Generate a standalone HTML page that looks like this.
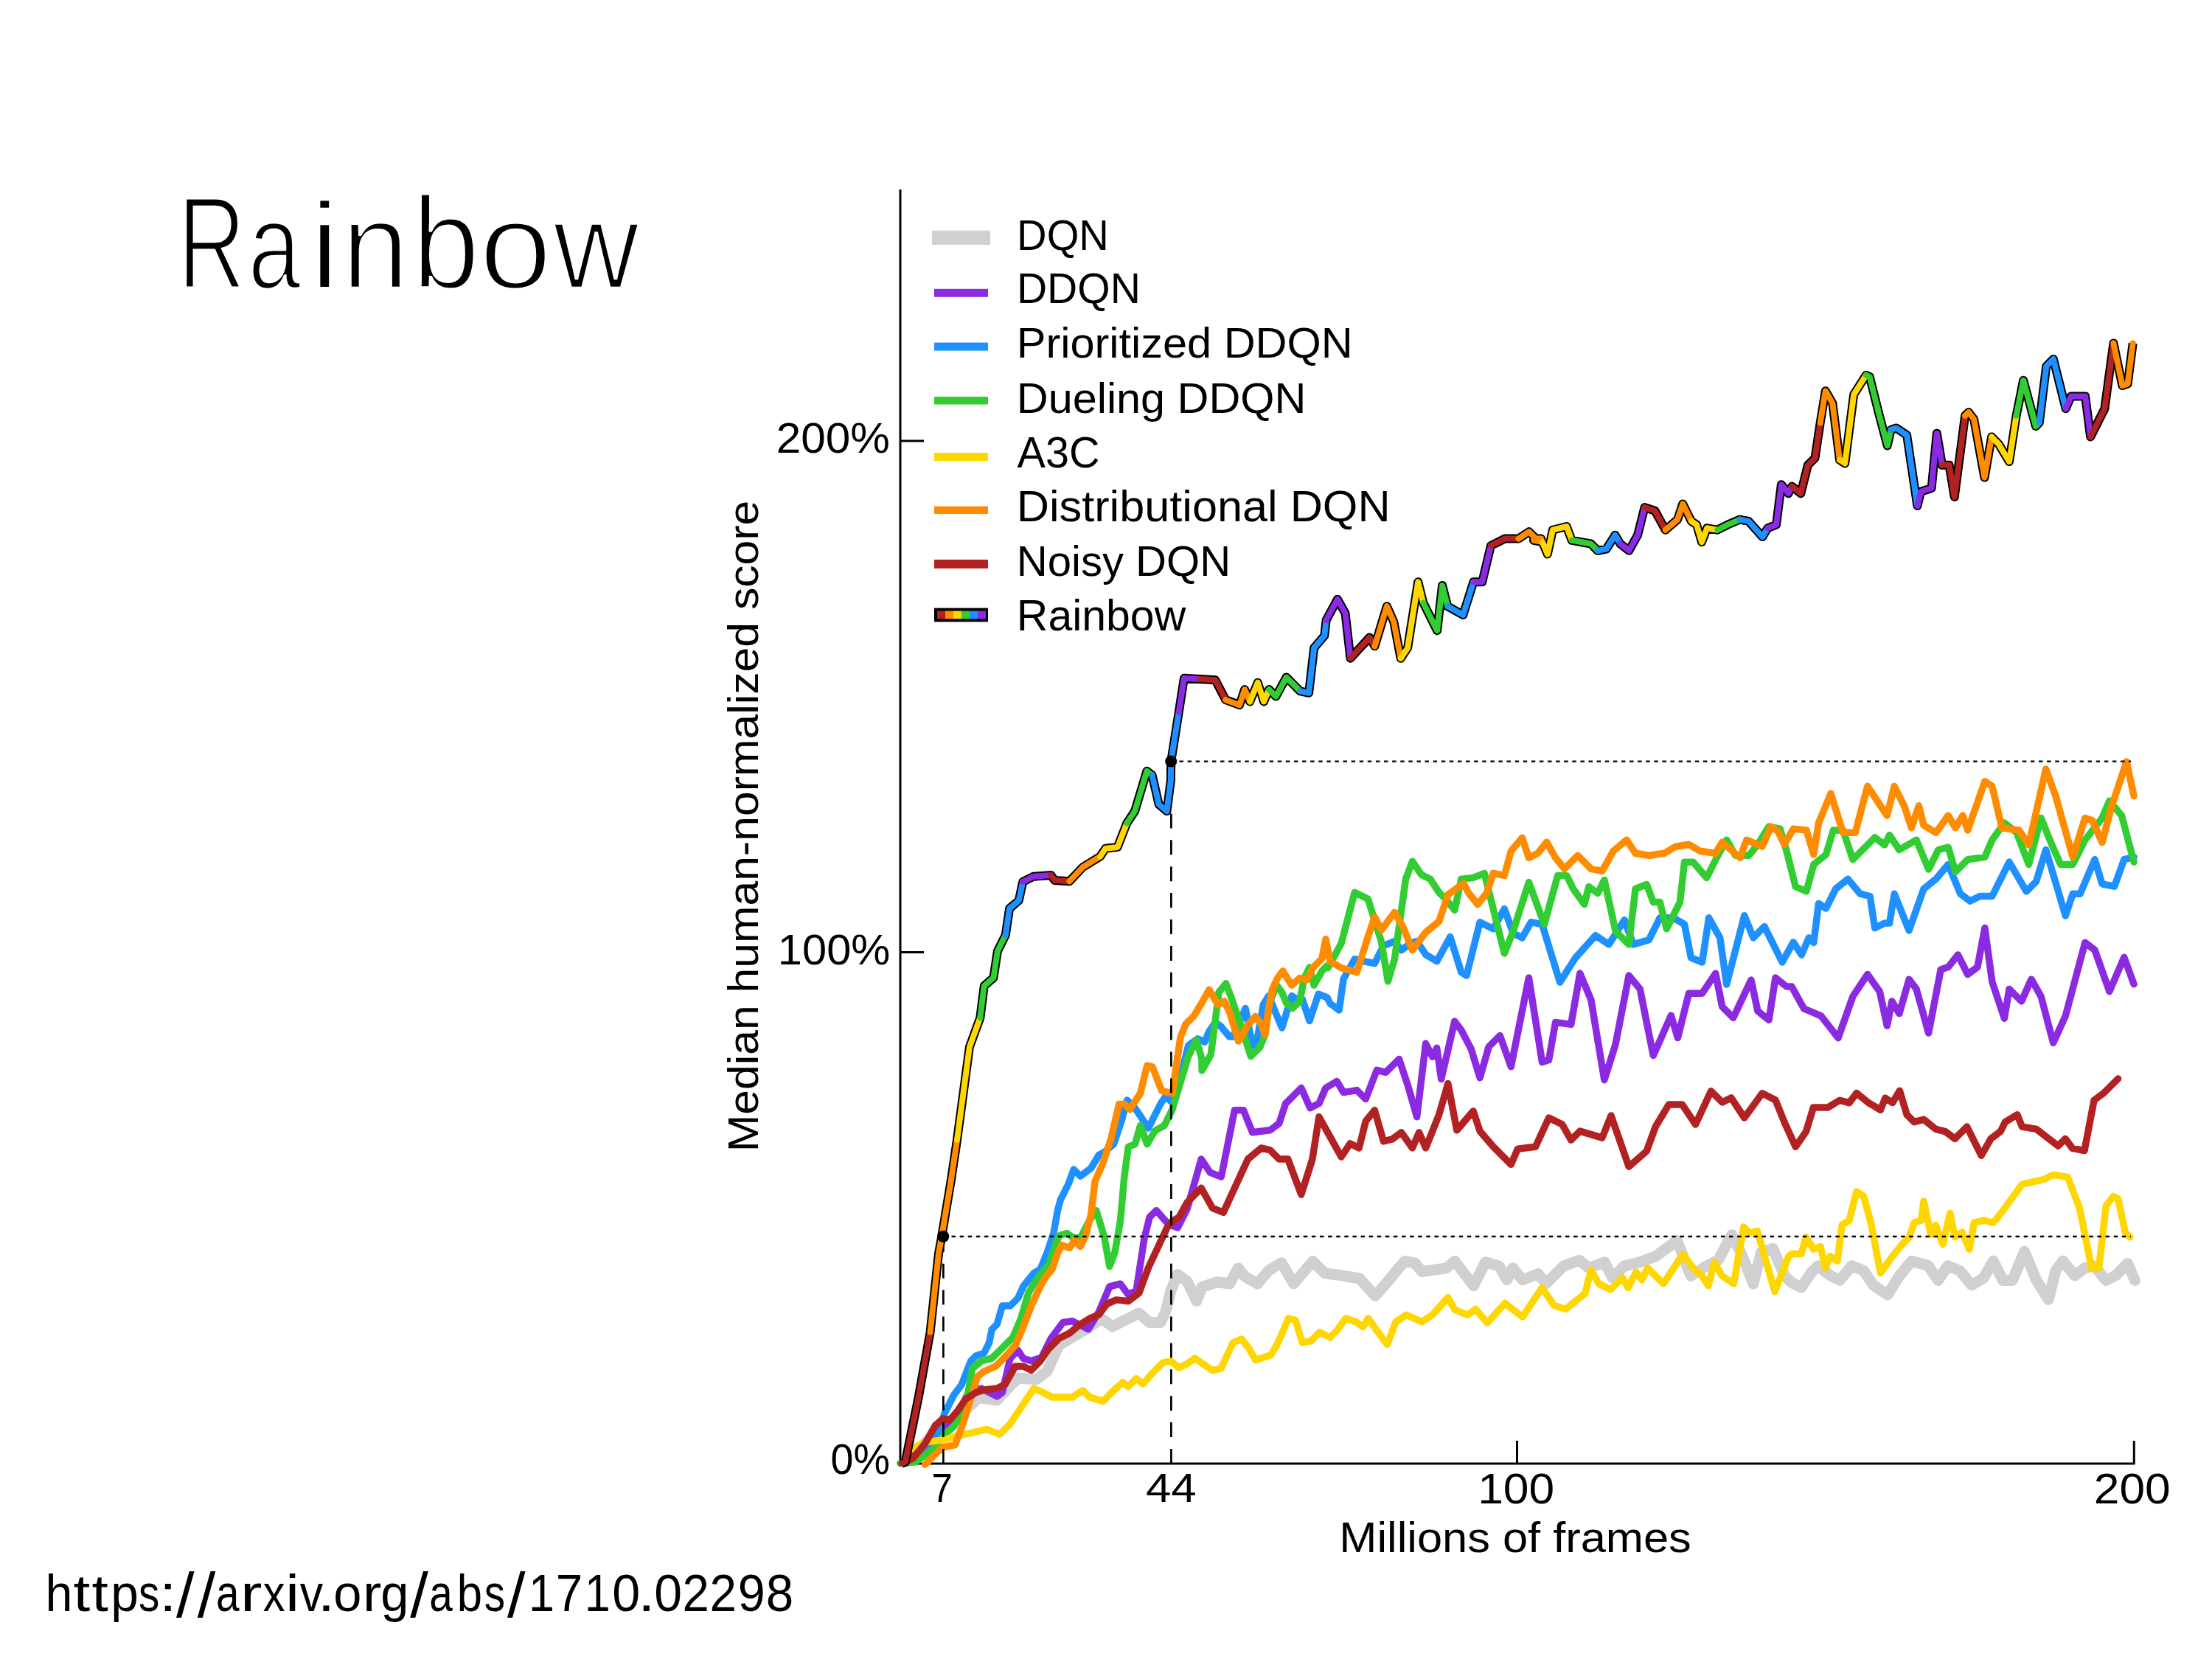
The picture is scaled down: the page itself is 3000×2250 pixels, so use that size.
<!DOCTYPE html>
<html><head><meta charset="utf-8"><style>
html,body{margin:0;padding:0;background:#fff;}
body{width:3000px;height:2250px;position:relative;overflow:hidden;}
svg{position:absolute;left:0;top:0;}
text{font-family:"Liberation Sans",sans-serif;fill:#000;}
</style></head><body>
<svg width="3000" height="2250" viewBox="0 0 3000 2250">
<rect width="3000" height="2250" fill="#fff"/>
<line x1="1221" y1="257" x2="1221" y2="1986.5" stroke="#000" stroke-width="3"/>
<line x1="1219.5" y1="1985" x2="2895.5" y2="1985" stroke="#000" stroke-width="3"/>
<line x1="1221" y1="598" x2="1253" y2="598" stroke="#000" stroke-width="3"/>
<line x1="1221" y1="1291.5" x2="1253" y2="1291.5" stroke="#000" stroke-width="3"/>
<line x1="2057.5" y1="1954" x2="2057.5" y2="1985" stroke="#000" stroke-width="3"/>
<line x1="2894.3" y1="1954" x2="2894.3" y2="1985" stroke="#000" stroke-width="3"/>
<polyline points="1227.8,1982.7 1263.3,1948.9 1298.9,1922.3 1327.4,1895.6 1352.2,1899.1 1366.5,1883.1 1380.7,1868.9 1405.6,1870.7 1420.0,1860.0 1436.2,1824.4 1454.3,1813.5 1476.0,1800.9 1494.1,1788.2 1508.5,1799.1 1526.6,1790.0 1544.7,1781.0 1559.2,1793.6 1573.6,1793.6 1580.9,1779.2 1588.1,1750.2 1597.2,1728.5 1610.0,1737.6 1622.9,1764.5 1630.0,1745.7 1651.1,1738.7 1667.6,1741.0 1679.3,1719.9 1688.7,1731.6 1705.2,1741.0 1721.6,1722.2 1738.1,1712.8 1754.5,1741.0 1780.4,1710.5 1796.8,1726.9 1815.6,1729.3 1843.8,1734.0 1865.0,1757.5 1881.4,1738.7 1904.9,1710.5 1919.0,1712.8 1928.4,1724.6 1961.3,1719.9 1973.1,1710.5 1998.6,1743.7 2014.5,1711.8 2033.1,1717.1 2043.7,1735.7 2051.6,1719.8 2064.9,1735.7 2086.1,1727.7 2096.7,1741.0 2120.6,1717.1 2141.8,1709.2 2155.1,1719.8 2176.3,1711.8 2186.9,1733.0 2202.8,1717.1 2224.1,1711.8 2245.3,1703.9 2274.5,1682.6 2293.0,1730.4 2314.3,1717.1 2330.2,1709.2 2348.7,1674.7 2362.0,1701.2 2377.9,1741.0 2388.5,1698.6 2404.4,1693.3 2420.4,1730.4 2430.0,1739.6 2443.0,1746.1 2456.0,1726.6 2465.8,1716.8 2482.1,1729.9 2495.1,1736.4 2511.4,1716.8 2527.6,1723.4 2540.6,1742.9 2560.2,1755.9 2576.4,1729.9 2592.7,1710.3 2615.5,1716.8 2628.5,1736.4 2641.5,1716.8 2657.8,1723.4 2674.1,1742.9 2690.3,1733.1 2703.4,1710.3 2716.4,1736.4 2729.4,1736.4 2745.7,1697.3 2761.9,1736.4 2778.2,1762.4 2788.0,1723.4 2797.7,1710.3 2814.0,1729.9 2827.0,1720.1 2840.0,1716.8 2856.3,1736.4 2869.3,1729.9 2885.6,1713.6 2895.4,1736.4" fill="none" stroke="#d0d0d2" stroke-width="15" stroke-linejoin="round" stroke-linecap="round"/>
<polyline points="1224.2,1984.5 1277.6,1945.4 1284.7,1931.2 1302.5,1913.4 1313.1,1888.5 1330.9,1883.1 1352.2,1893.8 1359.4,1888.5 1370.0,1842.2 1380.7,1831.6 1387.8,1842.2 1398.5,1845.8 1409.1,1842.2 1410.9,1844.3 1425.3,1815.3 1441.6,1793.6 1454.3,1791.8 1468.7,1799.1 1476.0,1802.7 1490.4,1779.2 1504.9,1744.8 1519.4,1741.2 1530.2,1755.7 1541.1,1750.2 1551.9,1679.7 1559.2,1650.7 1568.2,1641.7 1580.9,1656.2 1588.1,1661.6 1597.2,1665.2 1610.0,1639.9 1629.2,1572.0 1641.2,1590.1 1656.3,1596.1 1674.4,1505.7 1686.5,1505.7 1698.5,1535.8 1722.6,1532.8 1734.7,1523.8 1743.7,1496.6 1764.8,1475.5 1776.9,1502.7 1788.9,1496.6 1798.0,1475.5 1813.1,1466.5 1822.1,1481.6 1840.2,1478.6 1852.2,1490.6 1867.3,1451.4 1879.4,1454.4 1897.5,1436.4 1909.5,1472.5 1921.6,1514.7 1933.6,1415.3 1942.7,1433.3 1948.7,1421.3 1954.7,1463.5 1972.8,1385.1 1981.9,1397.2 1995.1,1422.5 2007.1,1461.7 2019.2,1419.5 2034.3,1404.5 2049.3,1446.7 2073.4,1326.1 2091.5,1440.6 2100.6,1437.6 2109.6,1386.4 2130.7,1389.4 2142.8,1320.1 2157.9,1356.2 2175.9,1464.7 2191.0,1416.5 2209.1,1323.1 2224.2,1341.2 2242.3,1431.6 2266.4,1377.3 2275.4,1407.5 2290.5,1347.2 2308.6,1347.2 2326.7,1320.1 2335.7,1365.3 2350.8,1380.3 2374.9,1329.1 2383.9,1371.3 2399.0,1383.4 2408.0,1326.1 2423.1,1338.1 2430.0,1338.1 2446.6,1368.0 2469.8,1377.9 2493.0,1407.7 2512.9,1351.4 2532.8,1321.5 2549.3,1344.7 2559.3,1391.2 2565.9,1358.0 2575.9,1374.6 2589.1,1328.2 2599.1,1341.4 2615.6,1401.1 2632.2,1314.9 2642.2,1311.6 2655.4,1295.0 2668.7,1321.5 2681.9,1311.6 2691.9,1258.6 2701.8,1331.5 2718.4,1381.2 2725.0,1341.4 2741.6,1358.0 2754.9,1328.2 2768.1,1351.4 2784.7,1414.4 2801.3,1377.9 2827.8,1278.4 2841.0,1288.4 2860.9,1344.7 2880.8,1298.3 2894.1,1334.8" fill="none" stroke="#8a2be2" stroke-width="9.5" stroke-linejoin="round" stroke-linecap="round"/>
<polyline points="1236.7,1982.7 1268.7,1952.5 1281.1,1916.9 1293.6,1892.0 1304.2,1877.8 1316.7,1845.8 1323.8,1838.7 1334.5,1835.1 1341.6,1820.9 1345.1,1803.1 1352.2,1796.0 1359.4,1771.1 1370.0,1771.1 1380.7,1760.5 1387.8,1744.5 1402.0,1726.7 1410.9,1721.3 1419.9,1699.6 1428.9,1672.5 1434.4,1641.7 1438.1,1627.7 1448.9,1606.0 1456.2,1586.1 1465.2,1595.1 1479.7,1584.3 1490.5,1566.2 1497.8,1562.6 1510.4,1551.7 1521.3,1519.2 1528.5,1492.0 1539.4,1502.9 1557.5,1530.0 1573.7,1497.5 1581.0,1486.6 1590.0,1495.7 1599.1,1468.5 1611.7,1417.9 1624.4,1408.8 1633.8,1413.3 1639.8,1398.9 1648.2,1386.8 1655.5,1391.6 1667.5,1406.1 1672.3,1406.1 1689.2,1367.5 1698.9,1420.6 1706.1,1403.7 1713.3,1362.7 1720.6,1350.6 1738.6,1394.0 1751.9,1350.6 1759.1,1355.5 1766.4,1355.5 1776.0,1384.4 1788.1,1348.2 1800.0,1353.0 1804.0,1361.0 1816.1,1370.0 1822.1,1327.8 1837.2,1300.7 1849.2,1303.7 1864.3,1306.7 1876.4,1282.6 1891.4,1276.6 1900.5,1288.7 1912.5,1279.6 1921.6,1276.6 1933.6,1294.7 1948.7,1303.7 1966.8,1270.6 1981.9,1318.8 1989.0,1323.1 2007.1,1250.7 2025.2,1259.8 2040.3,1232.6 2052.3,1265.8 2064.4,1271.8 2076.5,1250.7 2091.5,1253.7 2115.6,1332.1 2136.7,1299.0 2163.9,1268.8 2182.0,1280.9 2203.1,1247.7 2215.1,1280.9 2236.2,1274.8 2251.3,1244.7 2269.4,1244.7 2284.5,1253.7 2293.5,1299.0 2308.6,1305.0 2317.6,1244.7 2332.7,1271.8 2341.7,1335.1 2365.8,1241.7 2377.9,1271.8 2393.0,1256.7 2417.1,1305.0 2432.2,1277.9 2443.3,1295.0 2453.2,1271.8 2459.8,1278.4 2466.5,1225.4 2476.4,1232.0 2489.7,1205.5 2506.2,1192.3 2522.8,1212.2 2536.1,1215.5 2542.7,1258.6 2556.0,1251.9 2562.6,1251.9 2569.2,1212.2 2589.1,1261.9 2609.0,1205.5 2625.6,1192.3 2642.2,1172.4 2658.7,1212.2 2672.0,1222.1 2685.2,1215.5 2701.8,1215.5 2725.0,1169.1 2748.2,1208.8 2761.5,1195.6 2774.7,1152.5 2801.3,1242.0 2811.2,1212.2 2821.2,1212.2 2841.0,1165.7 2851.0,1198.9 2867.6,1202.2 2880.8,1165.7 2894.1,1162.4" fill="none" stroke="#1e90ff" stroke-width="9.5" stroke-linejoin="round" stroke-linecap="round"/>
<polyline points="1220.7,1984.5 1242.0,1982.7 1268.7,1963.2 1281.1,1945.4 1293.6,1934.7 1304.2,1915.1 1313.1,1888.5 1318.5,1856.5 1330.9,1845.8 1345.1,1842.2 1357.6,1829.8 1373.6,1813.8 1384.3,1788.9 1394.9,1753.3 1405.6,1735.6 1420.0,1717.8 1421.7,1717.7 1430.7,1690.5 1436.2,1676.1 1447.0,1672.5 1454.3,1677.9 1465.1,1679.7 1476.0,1658.0 1486.8,1641.7 1497.7,1677.9 1504.9,1717.7 1512.1,1697.8 1519.4,1656.2 1524.9,1595.1 1530.3,1555.3 1539.4,1551.7 1546.6,1526.4 1555.7,1551.7 1566.5,1533.6 1579.2,1526.4 1590.0,1504.7 1600.9,1468.5 1611.7,1432.4 1622.6,1410.6 1630.0,1436.0 1630.1,1451.9 1642.2,1430.2 1648.2,1384.4 1653.0,1345.8 1662.7,1333.8 1669.9,1353.0 1683.2,1391.6 1696.4,1432.6 1708.5,1420.6 1715.7,1403.7 1721.8,1360.3 1731.4,1336.2 1738.6,1345.8 1744.7,1360.3 1753.1,1367.5 1762.7,1357.9 1768.8,1326.5 1776.0,1312.1 1782.0,1336.2 1792.9,1316.9 1800.0,1309.6 1801.0,1312.8 1819.1,1279.6 1837.2,1210.3 1855.3,1219.3 1873.3,1276.6 1882.4,1330.9 1891.4,1300.7 1906.5,1192.2 1915.5,1168.1 1927.6,1186.2 1939.7,1192.2 1951.7,1210.3 1960.8,1219.3 1972.8,1234.4 1981.9,1192.2 1998.1,1190.4 2013.2,1184.4 2022.2,1220.6 2040.3,1292.9 2052.3,1262.8 2073.4,1196.5 2094.5,1253.7 2112.6,1187.4 2124.7,1187.4 2133.7,1205.5 2148.8,1226.6 2154.8,1202.5 2166.9,1211.5 2175.9,1193.4 2191.0,1262.8 2209.1,1280.9 2218.1,1205.5 2233.2,1199.5 2242.3,1223.6 2251.3,1223.6 2260.3,1259.8 2278.4,1223.6 2284.5,1169.3 2296.5,1169.3 2314.6,1190.4 2329.7,1160.3 2341.7,1139.2 2353.8,1160.3 2371.9,1160.3 2383.9,1145.2 2399.0,1121.1 2414.1,1124.1 2423.1,1154.3 2435.2,1202.5 2449.9,1208.8 2459.8,1172.4 2476.4,1159.1 2486.4,1126.0 2499.6,1126.0 2512.9,1165.7 2526.1,1152.5 2542.7,1135.9 2556.0,1145.9 2562.6,1132.6 2575.9,1152.5 2599.1,1139.2 2615.6,1179.0 2628.9,1152.5 2642.2,1149.2 2652.1,1182.3 2668.7,1165.7 2691.9,1162.4 2701.8,1139.2 2718.4,1116.0 2735.0,1129.3 2751.5,1172.4 2768.1,1109.4 2781.4,1142.5 2794.6,1172.4 2811.2,1172.4 2827.8,1139.2 2851.0,1109.4 2860.9,1086.2 2877.5,1106.1 2894.1,1169.1" fill="none" stroke="#32cd32" stroke-width="9.5" stroke-linejoin="round" stroke-linecap="round"/>
<polyline points="1226.0,1982.7 1233.1,1966.7 1254.5,1956.0 1281.1,1952.5 1298.9,1947.2 1316.7,1943.6 1338.0,1938.3 1355.8,1945.4 1370.0,1931.2 1387.8,1904.5 1402.0,1883.1 1414.5,1888.5 1427.1,1894.9 1454.3,1894.9 1468.7,1885.9 1477.8,1894.9 1495.9,1900.4 1512.1,1884.1 1523.0,1875.0 1530.2,1880.5 1541.1,1869.6 1550.1,1876.8 1562.8,1862.4 1577.3,1847.9 1588.1,1846.1 1599.0,1855.1 1610.0,1849.7 1620.6,1842.1 1644.1,1858.5 1655.8,1856.2 1672.3,1820.9 1684.0,1816.2 1693.4,1828.0 1702.8,1844.4 1724.0,1837.4 1733.4,1820.9 1747.5,1788.0 1756.9,1790.4 1766.3,1820.9 1778.0,1818.6 1789.8,1806.8 1803.9,1813.9 1813.3,1804.5 1825.0,1788.0 1839.1,1792.7 1848.5,1799.8 1855.6,1788.0 1867.3,1804.5 1881.4,1823.3 1893.2,1792.7 1907.3,1783.3 1928.4,1792.7 1942.5,1783.3 1963.7,1759.8 1973.1,1776.3 1990.6,1783.4 2001.2,1775.5 2017.1,1794.1 2041.0,1767.5 2064.9,1786.1 2091.4,1746.3 2107.3,1770.2 2123.3,1775.5 2149.8,1754.3 2157.7,1722.4 2168.3,1741.0 2184.3,1749.0 2200.2,1733.0 2208.1,1746.3 2218.8,1725.1 2226.7,1735.7 2234.7,1719.8 2255.9,1741.0 2282.4,1701.2 2298.3,1722.4 2306.3,1727.7 2316.9,1743.7 2324.9,1711.8 2335.5,1730.4 2351.4,1741.0 2364.7,1664.1 2372.6,1672.0 2383.2,1669.4 2407.1,1751.6 2425.7,1703.9 2430.0,1700.6 2443.0,1700.6 2449.5,1677.8 2459.3,1694.1 2469.1,1690.8 2475.6,1720.1 2482.1,1703.8 2491.8,1710.3 2498.3,1661.5 2508.1,1655.0 2517.9,1616.0 2527.6,1622.5 2537.4,1658.3 2550.4,1726.6 2566.7,1703.8 2579.7,1687.6 2589.5,1677.8 2596.0,1658.3 2605.7,1655.0 2609.0,1629.0 2618.7,1674.5 2625.3,1661.5 2635.0,1687.6 2644.8,1645.3 2651.3,1677.8 2661.1,1671.3 2670.8,1694.1 2677.3,1658.3 2690.3,1655.0 2703.4,1658.3 2716.4,1642.0 2742.4,1606.2 2771.7,1599.7 2784.7,1593.2 2804.2,1596.4 2820.5,1638.7 2836.8,1720.1 2846.5,1720.1 2856.3,1635.5 2866.1,1622.5 2872.6,1625.7 2882.3,1671.3 2888.8,1677.8" fill="none" stroke="#ffd700" stroke-width="9.5" stroke-linejoin="round" stroke-linecap="round"/>
<polyline points="1254.5,1986.3 1277.6,1963.2 1295.3,1959.6 1306.0,1931.2 1314.9,1902.7 1320.2,1884.9 1325.6,1867.1 1334.5,1860.0 1350.5,1852.9 1364.7,1838.7 1377.1,1824.5 1387.8,1799.6 1398.5,1771.1 1410.9,1744.5 1418.1,1732.1 1427.1,1721.3 1434.4,1699.6 1439.8,1688.7 1450.6,1692.4 1457.9,1681.5 1465.1,1690.5 1472.4,1676.1 1479.6,1647.1 1485.1,1602.4 1496.0,1577.1 1506.8,1544.5 1517.7,1497.5 1524.9,1497.5 1532.1,1504.7 1546.6,1483.0 1555.7,1445.0 1562.9,1446.8 1575.6,1479.4 1590.0,1483.0 1600.9,1407.0 1608.1,1388.9 1619.0,1378.1 1630.0,1360.0 1639.8,1342.2 1651.8,1362.7 1660.3,1357.9 1667.5,1372.3 1679.6,1412.1 1691.6,1391.6 1702.5,1378.4 1710.9,1389.2 1715.7,1403.7 1720.6,1367.5 1725.4,1342.2 1732.6,1326.5 1739.8,1316.9 1751.9,1336.2 1762.7,1326.5 1772.4,1328.9 1780.8,1312.1 1792.9,1300.0 1798.0,1273.6 1804.0,1303.7 1819.1,1312.8 1840.2,1318.8 1855.3,1270.6 1864.3,1243.4 1873.3,1261.5 1891.4,1237.4 1903.5,1258.5 1915.5,1288.7 1933.6,1264.5 1951.7,1249.5 1963.8,1213.3 1984.9,1198.2 1992.1,1211.5 2004.1,1226.6 2016.2,1211.5 2025.2,1184.4 2040.3,1187.4 2049.3,1154.3 2064.4,1136.2 2073.4,1163.3 2085.5,1157.3 2097.6,1142.2 2109.6,1163.3 2121.7,1178.4 2139.8,1160.3 2157.9,1178.4 2172.9,1181.4 2188.0,1154.3 2206.1,1139.2 2218.1,1157.3 2236.2,1160.3 2257.3,1157.3 2272.4,1148.2 2290.5,1145.2 2305.6,1154.3 2326.7,1157.3 2335.7,1142.2 2359.8,1163.3 2368.9,1139.2 2390.0,1148.2 2402.0,1121.1 2411.1,1127.1 2420.1,1145.2 2432.2,1124.1 2449.9,1126.0 2459.8,1159.1 2466.5,1116.0 2483.0,1076.2 2499.6,1129.3 2516.2,1129.3 2532.8,1066.3 2559.3,1106.1 2569.2,1066.3 2582.5,1092.8 2592.4,1122.7 2602.4,1092.8 2609.0,1119.3 2625.6,1129.3 2642.2,1106.1 2652.1,1122.7 2662.0,1106.1 2668.7,1126.0 2691.9,1059.7 2701.8,1066.3 2715.1,1122.7 2738.3,1126.0 2751.5,1145.9 2774.7,1043.1 2788.0,1079.6 2811.2,1162.4 2827.8,1109.4 2837.7,1112.7 2851.0,1142.5 2864.2,1092.8 2884.1,1033.1 2894.1,1079.6" fill="none" stroke="#ff8c00" stroke-width="9.5" stroke-linejoin="round" stroke-linecap="round"/>
<polyline points="1227.8,1982.7 1238.4,1977.4 1254.5,1957.8 1268.7,1932.9 1279.3,1924.0 1288.2,1925.8 1298.9,1913.4 1309.6,1897.4 1323.8,1888.5 1334.5,1884.9 1352.2,1883.1 1362.9,1877.8 1377.1,1852.9 1387.8,1852.9 1398.5,1858.3 1410.9,1845.8 1421.7,1829.8 1436.2,1815.3 1450.6,1808.1 1463.3,1797.3 1477.8,1788.2 1490.4,1782.8 1501.3,1768.3 1514.0,1762.9 1530.2,1764.7 1544.7,1753.8 1557.4,1719.5 1570.0,1692.4 1582.7,1665.2 1589.9,1656.2 1599.0,1650.7 1610.0,1630.9 1629.2,1611.2 1644.3,1638.3 1659.3,1644.3 1674.4,1611.2 1692.5,1572.0 1710.6,1556.9 1722.6,1559.9 1734.7,1572.0 1746.7,1572.0 1764.8,1620.2 1779.9,1572.0 1788.9,1514.7 1804.0,1541.9 1819.1,1569.0 1831.1,1550.9 1843.2,1556.9 1852.2,1520.8 1864.3,1505.7 1876.4,1547.9 1888.4,1544.9 1900.5,1535.8 1915.5,1556.9 1924.6,1535.8 1933.6,1556.9 1951.7,1511.7 1963.8,1469.5 1975.8,1532.8 1980.0,1528.0 1998.1,1506.9 2007.1,1534.1 2025.2,1555.2 2049.3,1579.3 2058.4,1558.2 2082.5,1555.2 2100.6,1516.0 2118.7,1525.0 2130.7,1546.1 2142.8,1534.1 2172.9,1543.1 2185.0,1513.0 2209.1,1582.3 2233.2,1561.2 2245.3,1528.0 2263.4,1497.9 2281.4,1497.9 2299.5,1525.0 2320.6,1479.8 2335.7,1494.9 2347.8,1488.9 2365.8,1516.0 2390.0,1482.8 2408.0,1491.9 2420.1,1522.0 2435.2,1555.2 2449.5,1534.6 2459.3,1502.1 2478.8,1502.1 2495.1,1492.3 2508.1,1495.6 2517.9,1482.5 2534.1,1495.6 2550.4,1505.3 2556.9,1489.1 2566.7,1495.6 2576.4,1479.3 2586.2,1511.8 2596.0,1521.6 2609.0,1518.3 2625.3,1531.4 2638.3,1534.6 2651.3,1544.4 2667.6,1528.1 2687.1,1567.2 2700.1,1544.4 2713.1,1534.6 2719.6,1521.6 2735.9,1511.8 2742.4,1528.1 2761.9,1531.4 2791.2,1554.1 2801.0,1544.4 2810.7,1557.4 2827.0,1560.6 2840.0,1492.3 2853.1,1482.5 2872.6,1463.0" fill="none" stroke="#b22222" stroke-width="9.5" stroke-linejoin="round" stroke-linecap="round"/>
<line x1="1279.4" y1="1985" x2="1279.4" y2="1677" stroke="#000" stroke-width="2.7" stroke-dasharray="20 15.9"/>
<line x1="1588.4" y1="1985" x2="1588.4" y2="1032.6" stroke="#000" stroke-width="2.7" stroke-dasharray="20 15.9"/>
<line x1="1279.4" y1="1677" x2="2890" y2="1677" stroke="#000" stroke-width="2.3" stroke-dasharray="5.5 5.6"/>
<line x1="1588.4" y1="1032.6" x2="2890" y2="1032.6" stroke="#000" stroke-width="2.3" stroke-dasharray="5.5 5.6"/>
<polyline points="1222.5,1985.0 1227.8,1982.7 1245.6,1895.6 1261.6,1806.7 1273.0,1700.0 1277.0,1678.0 1290.0,1600.0 1298.0,1546.0 1314.9,1420.0 1329.3,1380.4 1334.8,1337.0 1347.4,1326.1 1352.9,1290.0 1363.7,1268.3 1369.1,1232.1 1381.8,1221.2 1387.2,1195.9 1401.7,1188.7 1425.2,1186.9 1430.6,1194.1 1450.5,1195.2 1468.6,1176.0 1492.1,1161.6 1499.3,1150.7 1515.6,1148.9 1528.3,1116.4 1539.1,1100.1 1555.4,1045.8 1562.6,1051.3 1571.7,1091.0 1582.5,1100.1 1587.9,1058.5 1588.2,1032.6 1598.8,965.6 1605.9,919.8 1627.0,921.0 1648.2,922.2 1662.3,949.2 1681.1,956.2 1688.1,935.1 1695.2,951.5 1705.8,925.7 1714.0,951.5 1721.1,935.1 1730.5,944.5 1744.6,918.6 1763.4,937.4 1775.1,939.8 1782.2,878.7 1796.3,862.2 1798.6,841.1 1813.9,812.8 1824.5,831.6 1831.5,892.8 1857.4,864.6 1864.5,876.3 1880.9,822.2 1890.3,843.4 1899.7,892.8 1909.1,878.7 1923.2,789.3 1930.3,817.5 1949.1,855.2 1956.1,794.0 1963.2,822.2 1984.3,834.0 1998.4,789.3 2010.2,789.3 2022.0,740.0 2040.8,730.6 2059.6,730.6 2073.7,721.2 2083.1,730.6 2090.1,730.6 2080.0,732.8 2091.8,735.1 2098.8,751.6 2105.9,718.7 2124.7,714.0 2131.7,732.8 2157.6,737.5 2167.0,746.9 2178.7,744.5 2190.5,725.7 2197.5,737.5 2209.3,746.9 2221.1,725.7 2230.5,688.1 2244.6,692.8 2258.7,718.7 2275.1,704.6 2282.2,683.4 2293.9,706.9 2301.0,711.6 2308.0,735.1 2315.1,716.3 2329.2,718.7 2343.3,711.6 2359.7,704.6 2371.5,706.9 2390.3,728.1 2397.4,716.3 2409.1,711.6 2415.9,657.2 2425.5,669.2 2430.3,659.6 2442.3,669.2 2451.9,630.8 2461.5,621.3 2468.7,573.3 2475.8,530.2 2485.4,547.0 2495.0,623.7 2502.2,628.5 2514.2,535.0 2530.9,508.7 2535.7,511.0 2547.7,559.0 2559.7,604.5 2564.5,582.9 2571.7,580.5 2586.1,590.1 2600.4,686.0 2605.2,666.8 2619.6,662.0 2626.8,587.7 2634.0,630.8 2643.6,630.8 2650.7,674.0 2665.1,563.8 2669.9,559.0 2677.1,568.6 2691.5,647.6 2701.1,592.5 2710.6,602.1 2725.0,626.1 2734.6,563.8 2744.2,515.8 2761.0,578.1 2765.8,573.3 2775.3,496.7 2784.9,487.1 2801.7,554.2 2808.9,537.4 2828.1,537.4 2835.2,592.5 2854.4,554.2 2866.4,465.5 2878.4,523.0 2885.6,520.6 2892.7,465.5" fill="none" stroke="#000" stroke-width="12" stroke-linejoin="round" stroke-linecap="butt"/>
<polyline points="1222.5,1985.0 1227.8,1982.7 1245.6,1895.6 1261.6,1806.7" fill="none" stroke="#b22222" stroke-width="8" stroke-linejoin="round" stroke-linecap="round"/>
<polyline points="1261.6,1806.7 1273.0,1700.0 1277.0,1678.0 1290.0,1600.0 1298.0,1546.0" fill="none" stroke="#ff8c00" stroke-width="8" stroke-linejoin="round" stroke-linecap="round"/>
<polyline points="1298.0,1546.0 1314.9,1420.0 1329.3,1380.4" fill="none" stroke="#ffd700" stroke-width="8" stroke-linejoin="round" stroke-linecap="round"/>
<polyline points="1329.3,1380.4 1334.8,1337.0 1347.4,1326.1 1352.9,1290.0 1363.7,1268.3" fill="none" stroke="#32cd32" stroke-width="8" stroke-linejoin="round" stroke-linecap="round"/>
<polyline points="1363.7,1268.3 1369.1,1232.1 1381.8,1221.2 1387.2,1195.9" fill="none" stroke="#1e90ff" stroke-width="8" stroke-linejoin="round" stroke-linecap="round"/>
<polyline points="1387.2,1195.9 1401.7,1188.7 1425.2,1186.9" fill="none" stroke="#8a2be2" stroke-width="8" stroke-linejoin="round" stroke-linecap="round"/>
<polyline points="1425.2,1186.9 1430.6,1194.1 1450.5,1195.2" fill="none" stroke="#b22222" stroke-width="8" stroke-linejoin="round" stroke-linecap="round"/>
<polyline points="1450.5,1195.2 1468.6,1176.0 1492.1,1161.6" fill="none" stroke="#ff8c00" stroke-width="8" stroke-linejoin="round" stroke-linecap="round"/>
<polyline points="1492.1,1161.6 1499.3,1150.7 1515.6,1148.9 1528.3,1116.4" fill="none" stroke="#ffd700" stroke-width="8" stroke-linejoin="round" stroke-linecap="round"/>
<polyline points="1528.3,1116.4 1539.1,1100.1 1555.4,1045.8 1562.6,1051.3" fill="none" stroke="#32cd32" stroke-width="8" stroke-linejoin="round" stroke-linecap="round"/>
<polyline points="1562.6,1051.3 1571.7,1091.0 1582.5,1100.1 1587.9,1058.5 1588.2,1032.6 1598.8,965.6" fill="none" stroke="#1e90ff" stroke-width="8" stroke-linejoin="round" stroke-linecap="round"/>
<polyline points="1598.8,965.6 1605.9,919.8 1627.0,921.0" fill="none" stroke="#8a2be2" stroke-width="8" stroke-linejoin="round" stroke-linecap="round"/>
<polyline points="1627.0,921.0 1648.2,922.2 1662.3,949.2" fill="none" stroke="#b22222" stroke-width="8" stroke-linejoin="round" stroke-linecap="round"/>
<polyline points="1662.3,949.2 1681.1,956.2 1688.1,935.1 1695.2,951.5" fill="none" stroke="#ff8c00" stroke-width="8" stroke-linejoin="round" stroke-linecap="round"/>
<polyline points="1695.2,951.5 1705.8,925.7 1714.0,951.5 1721.1,935.1" fill="none" stroke="#ffd700" stroke-width="8" stroke-linejoin="round" stroke-linecap="round"/>
<polyline points="1721.1,935.1 1730.5,944.5 1744.6,918.6 1763.4,937.4" fill="none" stroke="#32cd32" stroke-width="8" stroke-linejoin="round" stroke-linecap="round"/>
<polyline points="1763.4,937.4 1775.1,939.8 1782.2,878.7 1796.3,862.2 1798.6,841.1" fill="none" stroke="#1e90ff" stroke-width="8" stroke-linejoin="round" stroke-linecap="round"/>
<polyline points="1798.6,841.1 1813.9,812.8 1824.5,831.6 1831.5,892.8" fill="none" stroke="#8a2be2" stroke-width="8" stroke-linejoin="round" stroke-linecap="round"/>
<polyline points="1831.5,892.8 1857.4,864.6 1864.5,876.3" fill="none" stroke="#b22222" stroke-width="8" stroke-linejoin="round" stroke-linecap="round"/>
<polyline points="1864.5,876.3 1880.9,822.2 1890.3,843.4 1899.7,892.8" fill="none" stroke="#ff8c00" stroke-width="8" stroke-linejoin="round" stroke-linecap="round"/>
<polyline points="1899.7,892.8 1909.1,878.7 1923.2,789.3 1930.3,817.5" fill="none" stroke="#ffd700" stroke-width="8" stroke-linejoin="round" stroke-linecap="round"/>
<polyline points="1930.3,817.5 1949.1,855.2 1956.1,794.0 1963.2,822.2" fill="none" stroke="#32cd32" stroke-width="8" stroke-linejoin="round" stroke-linecap="round"/>
<polyline points="1963.2,822.2 1984.3,834.0 1998.4,789.3" fill="none" stroke="#1e90ff" stroke-width="8" stroke-linejoin="round" stroke-linecap="round"/>
<polyline points="1998.4,789.3 2010.2,789.3 2022.0,740.0" fill="none" stroke="#8a2be2" stroke-width="8" stroke-linejoin="round" stroke-linecap="round"/>
<polyline points="2022.0,740.0 2040.8,730.6 2059.6,730.6" fill="none" stroke="#b22222" stroke-width="8" stroke-linejoin="round" stroke-linecap="round"/>
<polyline points="2059.6,730.6 2073.7,721.2 2083.1,730.6 2090.1,730.6 2080.0,732.8 2091.8,735.1" fill="none" stroke="#ff8c00" stroke-width="8" stroke-linejoin="round" stroke-linecap="round"/>
<polyline points="2091.8,735.1 2098.8,751.6 2105.9,718.7 2124.7,714.0 2131.7,732.8" fill="none" stroke="#ffd700" stroke-width="8" stroke-linejoin="round" stroke-linecap="round"/>
<polyline points="2131.7,732.8 2157.6,737.5 2167.0,746.9" fill="none" stroke="#32cd32" stroke-width="8" stroke-linejoin="round" stroke-linecap="round"/>
<polyline points="2167.0,746.9 2178.7,744.5 2190.5,725.7 2197.5,737.5" fill="none" stroke="#1e90ff" stroke-width="8" stroke-linejoin="round" stroke-linecap="round"/>
<polyline points="2197.5,737.5 2209.3,746.9 2221.1,725.7 2230.5,688.1" fill="none" stroke="#8a2be2" stroke-width="8" stroke-linejoin="round" stroke-linecap="round"/>
<polyline points="2230.5,688.1 2244.6,692.8 2258.7,718.7" fill="none" stroke="#b22222" stroke-width="8" stroke-linejoin="round" stroke-linecap="round"/>
<polyline points="2258.7,718.7 2275.1,704.6 2282.2,683.4 2293.9,706.9" fill="none" stroke="#ff8c00" stroke-width="8" stroke-linejoin="round" stroke-linecap="round"/>
<polyline points="2293.9,706.9 2301.0,711.6 2308.0,735.1 2315.1,716.3 2329.2,718.7" fill="none" stroke="#ffd700" stroke-width="8" stroke-linejoin="round" stroke-linecap="round"/>
<polyline points="2329.2,718.7 2343.3,711.6 2359.7,704.6" fill="none" stroke="#32cd32" stroke-width="8" stroke-linejoin="round" stroke-linecap="round"/>
<polyline points="2359.7,704.6 2371.5,706.9 2390.3,728.1 2397.4,716.3" fill="none" stroke="#1e90ff" stroke-width="8" stroke-linejoin="round" stroke-linecap="round"/>
<polyline points="2397.4,716.3 2409.1,711.6 2415.9,657.2 2425.5,669.2 2430.3,659.6" fill="none" stroke="#8a2be2" stroke-width="8" stroke-linejoin="round" stroke-linecap="round"/>
<polyline points="2430.3,659.6 2442.3,669.2 2451.9,630.8 2461.5,621.3 2468.7,573.3" fill="none" stroke="#b22222" stroke-width="8" stroke-linejoin="round" stroke-linecap="round"/>
<polyline points="2468.7,573.3 2475.8,530.2 2485.4,547.0 2495.0,623.7" fill="none" stroke="#ff8c00" stroke-width="8" stroke-linejoin="round" stroke-linecap="round"/>
<polyline points="2495.0,623.7 2502.2,628.5 2514.2,535.0 2530.9,508.7" fill="none" stroke="#ffd700" stroke-width="8" stroke-linejoin="round" stroke-linecap="round"/>
<polyline points="2530.9,508.7 2535.7,511.0 2547.7,559.0 2559.7,604.5 2564.5,582.9" fill="none" stroke="#32cd32" stroke-width="8" stroke-linejoin="round" stroke-linecap="round"/>
<polyline points="2564.5,582.9 2571.7,580.5 2586.1,590.1 2600.4,686.0" fill="none" stroke="#1e90ff" stroke-width="8" stroke-linejoin="round" stroke-linecap="round"/>
<polyline points="2600.4,686.0 2605.2,666.8 2619.6,662.0 2626.8,587.7 2634.0,630.8" fill="none" stroke="#8a2be2" stroke-width="8" stroke-linejoin="round" stroke-linecap="round"/>
<polyline points="2634.0,630.8 2643.6,630.8 2650.7,674.0 2665.1,563.8" fill="none" stroke="#b22222" stroke-width="8" stroke-linejoin="round" stroke-linecap="round"/>
<polyline points="2665.1,563.8 2669.9,559.0 2677.1,568.6 2691.5,647.6 2701.1,592.5" fill="none" stroke="#ff8c00" stroke-width="8" stroke-linejoin="round" stroke-linecap="round"/>
<polyline points="2701.1,592.5 2710.6,602.1 2725.0,626.1 2734.6,563.8" fill="none" stroke="#ffd700" stroke-width="8" stroke-linejoin="round" stroke-linecap="round"/>
<polyline points="2734.6,563.8 2744.2,515.8 2761.0,578.1 2765.8,573.3" fill="none" stroke="#32cd32" stroke-width="8" stroke-linejoin="round" stroke-linecap="round"/>
<polyline points="2765.8,573.3 2775.3,496.7 2784.9,487.1 2801.7,554.2" fill="none" stroke="#1e90ff" stroke-width="8" stroke-linejoin="round" stroke-linecap="round"/>
<polyline points="2801.7,554.2 2808.9,537.4 2828.1,537.4 2835.2,592.5" fill="none" stroke="#8a2be2" stroke-width="8" stroke-linejoin="round" stroke-linecap="round"/>
<polyline points="2835.2,592.5 2854.4,554.2 2866.4,465.5" fill="none" stroke="#b22222" stroke-width="8" stroke-linejoin="round" stroke-linecap="round"/>
<polyline points="2866.4,465.5 2878.4,523.0 2885.6,520.6 2892.7,465.5" fill="none" stroke="#ff8c00" stroke-width="8" stroke-linejoin="round" stroke-linecap="round"/>
<circle cx="1279.3" cy="1677" r="8" fill="#000"/>
<circle cx="1588.2" cy="1032.6" r="8" fill="#000"/>
<rect x="1264" y="312.7" width="79" height="19.30000000000001" fill="#d0d0d2"/>
<rect x="1267" y="391.8" width="73" height="11.0" fill="#8a2be2"/>
<rect x="1267" y="464.6" width="73" height="11.0" fill="#1e90ff"/>
<rect x="1267" y="538" width="73" height="10.5" fill="#32cd32"/>
<rect x="1267" y="614" width="73" height="11" fill="#ffd700"/>
<rect x="1267" y="686.7" width="73" height="10.299999999999955" fill="#ff8c00"/>
<rect x="1267" y="759" width="73" height="12" fill="#b22222"/>
<rect x="1267" y="824.6" width="73" height="18.8" fill="#000"/>
<rect x="1271" y="828.6" width="11" height="10.8" fill="#b22222"/>
<rect x="1282" y="828.6" width="11" height="10.8" fill="#ff8c00"/>
<rect x="1293" y="828.6" width="11" height="10.8" fill="#ffd700"/>
<rect x="1304" y="828.6" width="11" height="10.8" fill="#32cd32"/>
<rect x="1315" y="828.6" width="11" height="10.8" fill="#1e90ff"/>
<rect x="1326" y="828.6" width="11" height="10.8" fill="#8a2be2"/>
<text transform="translate(241.05,390.50) scale(0.7129,1.0000)" style="font-size:179.00px;stroke:#fff;stroke-width:5px;">R</text>
<text transform="translate(336.13,390.50) scale(0.7200,0.9300)" style="font-size:179.00px;stroke:#fff;stroke-width:5px;">a</text>
<text transform="translate(418.35,390.50) scale(1.1088,0.9300)" style="font-size:179.00px;stroke:#fff;stroke-width:5px;">i</text>
<text transform="translate(462.91,390.50) scale(0.9234,0.9300)" style="font-size:179.00px;stroke:#fff;stroke-width:5px;">n</text>
<text transform="translate(558.57,390.50) scale(0.9285,1.0000)" style="font-size:179.00px;stroke:#fff;stroke-width:5px;">b</text>
<text transform="translate(649.75,390.50) scale(0.9935,0.9300)" style="font-size:179.00px;stroke:#fff;stroke-width:5px;">o</text>
<text transform="translate(750.18,390.50) scale(0.9026,0.9300)" style="font-size:179.00px;stroke:#fff;stroke-width:5px;">w</text>
<text transform="translate(61.40,2184.80) scale(0.9375,1.0000)" style="font-size:70.80px;">h</text>
<text transform="translate(99.56,2184.80) scale(1.1560,1.0000)" style="font-size:70.80px;">t</text>
<text transform="translate(124.48,2184.80) scale(1.1339,1.0000)" style="font-size:70.80px;">t</text>
<text transform="translate(150.24,2184.80) scale(0.9548,1.0000)" style="font-size:70.80px;">p</text>
<text transform="translate(187.93,2184.80) scale(0.8000,1.0000)" style="font-size:70.80px;">s</text>
<text transform="translate(216.22,2184.80) scale(1.1719,1.0000)" style="font-size:70.80px;">:</text>
<text transform="translate(239.01,2193.16) scale(1.2500,1.2117)" style="font-size:70.80px;">/</text>
<text transform="translate(267.66,2193.16) scale(1.2500,1.2117)" style="font-size:70.80px;">/</text>
<text transform="translate(293.05,2184.80) scale(0.8000,1.0000)" style="font-size:70.80px;">a</text>
<text transform="translate(325.91,2184.80) scale(1.2500,1.0000)" style="font-size:70.80px;">r</text>
<text transform="translate(356.83,2184.80) scale(0.8421,1.0000)" style="font-size:70.80px;">x</text>
<text transform="translate(387.37,2184.80) scale(1.1892,1.0000)" style="font-size:70.80px;">i</text>
<text transform="translate(406.69,2184.80) scale(0.8850,1.0000)" style="font-size:70.80px;">v</text>
<text transform="translate(430.83,2184.80) scale(1.1868,1.0000)" style="font-size:70.80px;">.</text>
<text transform="translate(452.32,2184.80) scale(0.9692,1.0000)" style="font-size:70.80px;">o</text>
<text transform="translate(492.05,2184.80) scale(1.0735,1.0000)" style="font-size:70.80px;">r</text>
<text transform="translate(516.31,2184.80) scale(0.9705,1.0000)" style="font-size:70.80px;">g</text>
<text transform="translate(556.36,2193.16) scale(1.2500,1.2117)" style="font-size:70.80px;">/</text>
<text transform="translate(582.20,2184.80) scale(0.8000,1.0000)" style="font-size:70.80px;">a</text>
<text transform="translate(619.73,2184.80) scale(0.8700,1.0000)" style="font-size:70.80px;">b</text>
<text transform="translate(656.83,2184.80) scale(0.8000,1.0000)" style="font-size:70.80px;">s</text>
<text transform="translate(688.11,2193.16) scale(1.2500,1.2117)" style="font-size:70.80px;">/</text>
<text transform="translate(716.91,2184.80) scale(0.8878,1.0000)" style="font-size:70.80px;">1</text>
<text transform="translate(753.64,2184.80) scale(0.9259,1.0000)" style="font-size:70.80px;">7</text>
<text transform="translate(792.79,2184.80) scale(0.8911,1.0000)" style="font-size:70.80px;">1</text>
<text transform="translate(830.24,2184.80) scale(0.9633,1.0000)" style="font-size:70.80px;">0</text>
<text transform="translate(864.93,2184.80) scale(1.2016,1.0000)" style="font-size:70.80px;">.</text>
<text transform="translate(887.24,2184.80) scale(0.9603,1.0000)" style="font-size:70.80px;">0</text>
<text transform="translate(925.51,2184.80) scale(0.9239,1.0000)" style="font-size:70.80px;">2</text>
<text transform="translate(962.50,2184.80) scale(0.9270,1.0000)" style="font-size:70.80px;">2</text>
<text transform="translate(1000.68,2184.80) scale(0.9388,1.0000)" style="font-size:70.80px;">9</text>
<text transform="translate(1038.87,2184.80) scale(0.9512,1.0000)" style="font-size:70.80px;">8</text>
<text transform="translate(1379.07,338.70) scale(0.9665,1.0000)" style="font-size:58.14px;">DQN</text>
<text transform="translate(1378.93,411.30) scale(0.9937,1.0000)" style="font-size:57.41px;">DDQN</text>
<text transform="translate(1378.78,484.80) scale(1.0229,1.0000)" style="font-size:58.14px;">Prioritized DDQN</text>
<text transform="translate(1378.79,560.30) scale(1.0213,1.0000)" style="font-size:58.14px;">Dueling DDQN</text>
<text transform="translate(1379.60,633.60) scale(0.9821,1.0000)" style="font-size:58.58px;">A3C</text>
<text transform="translate(1378.78,706.80) scale(1.0226,1.0000)" style="font-size:59.88px;">Distributional DQN</text>
<text transform="translate(1378.79,781.30) scale(1.0219,1.0000)" style="font-size:56.83px;">Noisy DQN</text>
<text transform="translate(1378.85,855.00) scale(1.0090,1.0000)" style="font-size:58.43px;">Rainbow</text>
<text transform="translate(1052.68,614.00) scale(1.0348,1.0000)" style="font-size:58.28px;">200%</text>
<text transform="translate(1054.86,1307.60) scale(1.0355,1.0000)" style="font-size:57.56px;">100%</text>
<text transform="translate(1126.57,1998.80) scale(0.9624,1.0000)" style="font-size:57.85px;">0%</text>
<text transform="translate(1263.54,2037.30) scale(0.9242,1.0000)" style="font-size:55.23px;">7</text>
<text transform="translate(1553.88,2037.30) scale(1.1186,1.0000)" style="font-size:55.23px;">44</text>
<text transform="translate(2004.15,2038.50) scale(1.0778,1.0000)" style="font-size:57.85px;">100</text>
<text transform="translate(2839.77,2038.50) scale(1.0769,1.0000)" style="font-size:57.85px;">200</text>
<text transform="translate(1816.34,2104.60) scale(1.0584,1.0000)" style="font-size:57.99px;">Millions of frames</text>
<text transform="translate(1027.90,1562.37) rotate(-90) scale(1.0735,1.0000)" style="font-size:56.54px;">Median human-normalized score</text>
</svg>
</body></html>
